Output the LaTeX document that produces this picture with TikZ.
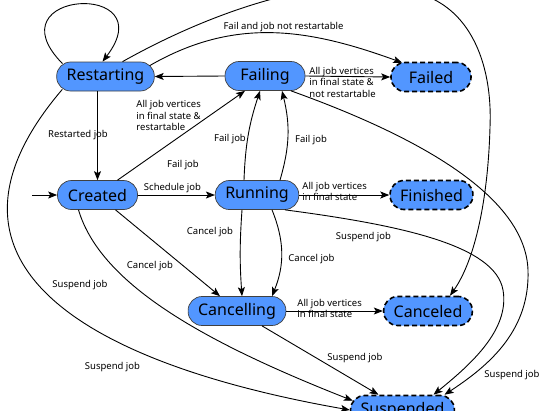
\documentclass[tikz,border=0pt]{standalone}
\usepackage{fontspec}
\setmainfont{Noto Sans}
\usetikzlibrary{arrows.meta}
\definecolor{statefill}{RGB}{82,150,255}
\tikzset{
  state/.style={draw=black!75, line width=0.7pt, fill=statefill, rounded corners=14pt,
    minimum width=80pt, minimum height=29pt, inner xsep=10pt, font=\fontsize{16}{19}\selectfont},
  final/.style={state, draw=black, line width=1.6pt, dash pattern=on 5pt off 3pt},
  lbl/.style={font=\fontsize{9.5}{11.5}\selectfont, inner sep=0pt, align=left},
}
\begin{document}
\begin{tikzpicture}[x=1pt,y=1pt,line width=0.9pt,>={Stealth[length=9pt,width=7pt,inset=2pt]}]
\useasboundingbox (0,0) rectangle (545,-410);
% states
\node[state] (restarting) at (105.5,-76.5) {Restarting};
\node[state] (failing) at (265,-76) {Failing};
\node[final] (failed) at (431,-77) {Failed};
\node[state] (created) at (97.5,-195) {Created};
\node[state] (running) at (257,-195) {Running};
\node[final] (finished) at (431.5,-195) {Finished};
\node[state] (cancelling) at (237,-311) {Cancelling};
\node[final] (canceled) at (428,-311) {Canceled};
\node[final] (suspended) at (402.5,-410) {Suspended};
\coordinate (init) at (32,-195);
% straight transitions
\draw[->] (init) -- (created.west);
\foreach \from/\to in {failing.west/restarting.east,failing.east/failed.west,created.east/running.west,running.east/finished.west,cancelling.east/canceled.west}
\draw[->] (\from) -- (\to);
\draw[->] (created.north |- restarting.south) -- (created.north);
\draw[->] ([xshift=20pt]created.north) -- ([xshift=-20pt]failing.south);
\draw[->] ([xshift=18pt]created.south) -- ([xshift=-17pt]cancelling.north);
\draw[->] ([xshift=25pt]cancelling.south) -- ([xshift=-24pt]suspended.north);
% bent transitions
\draw[->] ([shift={(-43pt,-2pt)}]restarting.north) .. controls (-10,10) and (165,20) .. ([xshift=-3pt]restarting.north);
\draw[->] ([shift={(-5pt,-4pt)}]restarting.north east) to[out=30,in=160] ([shift={(12pt,-1pt)}]failed.north west);
\draw[->] ([xshift=-13pt]running.north) to[bend left=8] ([xshift=-5pt]failing.south);
\draw[->] ([xshift=23pt]running.north) to[bend right=15] ([xshift=17pt]failing.south);
\draw[->] ([xshift=-15pt]running.south) to[bend right=4] ([xshift=5pt]cancelling.north);
\draw[->] ([xshift=15pt]running.south) to[bend left=22] ([xshift=35pt]cancelling.north);
\draw[->] ([xshift=17pt]restarting.north) .. controls (250,10) and (390,40) .. (450,-10)
  .. controls (480,-35) and (492,-80) .. (490,-127)
  .. controls (488,-200) and (475,-260) .. ([xshift=22pt]canceled.north);
\draw[->] ([xshift=26pt]failing.south) .. controls (400,-130) and (525,-190) .. (528,-270)
  .. controls (530,-330) and (490,-365) .. ([xshift=42pt]suspended.north);
\draw[->] ([xshift=28pt]running.south) .. controls (400,-225) and (495,-245) .. (503,-290)
  .. controls (510,-330) and (470,-365) .. ([xshift=31pt]suspended.north);
\draw[->] ([xshift=-19pt]created.south) .. controls (101,-286) and (209,-344) .. ([shift={(3pt,-6pt)}]suspended.north west);
\draw[->] ([shift={(6pt,2pt)}]restarting.south west) .. controls (-81,-257) and (71,-361) .. (suspended.west);
% labels
\node[lbl] (lfailnot) at (283.5,-27) {Fail and job not restartable};
\node[lbl,anchor=west] (lrestartable) at (136,-115.5) {All job vertices\\in final state \&\\restartable};
\node[lbl] (lrestarted) at (78,-135) {Restarted job};
\node[lbl] (lfail1) at (183,-165) {Fail job};
\node[lbl] (lfail2) at (230,-139) {Fail job};
\node[lbl] (lfail3) at (311,-140) {Fail job};
\node[lbl] (lschedule) at (172.5,-188) {Schedule job};
\node[lbl,anchor=west] (lnotrestartable) at (309,-82) {All job vertices\\in final state \&\\not restartable};
\node[lbl,anchor=west] (lfinished) at (302,-191.5) {All job vertices\\in final state};
\node[lbl,anchor=west] (lcanceled) at (297,-308.5) {All job vertices\\in final state};
\node[lbl] (lcancel1) at (210,-232) {Cancel job};
\node[lbl] (lcancel2) at (311.5,-259) {Cancel job};
\node[lbl] (lcancel3) at (150,-266) {Cancel job};
\node[lbl] (lsuspend1) at (363.5,-237) {Suspend job};
\node[lbl] (lsuspend2) at (80,-285) {Suspend job};
\node[lbl] (lsuspend3) at (112.5,-367) {Suspend job};
\node[lbl] (lsuspend4) at (355,-358) {Suspend job};
\node[lbl] (lsuspend5) at (512,-375) {Suspend job};
\end{tikzpicture}
\end{document}
